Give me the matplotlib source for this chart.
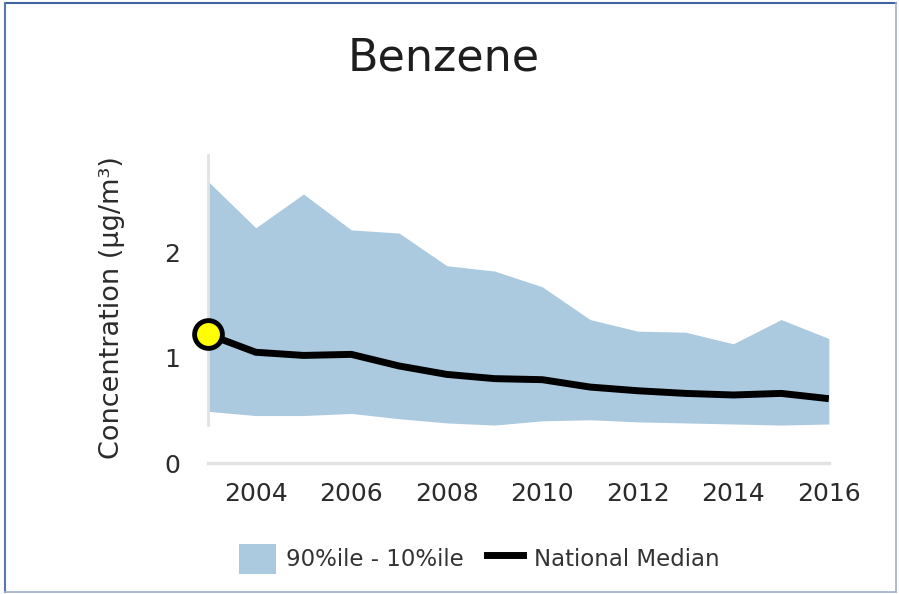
import numpy as np
import matplotlib
matplotlib.use('Agg')
import matplotlib.pyplot as plt
from matplotlib.lines import Line2D
from matplotlib.patches import Patch

plt.rcParams['font.family'] = ['DejaVu Sans']

# data
years = [2003, 2004, 2005, 2006, 2007, 2008, 2009, 2010, 2011, 2012, 2013, 2014, 2015, 2016]
p90 = [2.67, 2.23, 2.55, 2.21, 2.18, 1.87, 1.82, 1.67, 1.36, 1.25, 1.24, 1.13, 1.36, 1.18]
p10 = [0.49, 0.45, 0.45, 0.47, 0.42, 0.38, 0.36, 0.40, 0.41, 0.39, 0.38, 0.37, 0.36, 0.37]
median = [1.22, 1.05, 1.02, 1.03, 0.92, 0.84, 0.80, 0.79, 0.72, 0.685, 0.66, 0.645, 0.66, 0.61]
xticks = [2004, 2006, 2008, 2010, 2012, 2014, 2016]
yticks = [0, 1, 2]

band_col = '#abc9df'
txt_col = '#2b2b2b'

fig = plt.figure(figsize=(8.99, 5.94), dpi=100)
ax = fig.add_axes([0.2314, 0.2205, 0.6906, 0.5239])

ax.fill_between(years, p10, p90, color=band_col, linewidth=0)
ax.plot(years, median, color='black', lw=5, solid_capstyle='butt', zorder=3)
ax.plot(years[0], median[0], 'o', ms=20, mfc='#ffff00', mec='black', mew=3.5,
        clip_on=False, zorder=4)

ax.set_xlim(2003, 2016)
ax.set_ylim(0, 2.95)
ax.set_xticks(xticks)
ax.set_yticks(yticks)
ax.tick_params(length=0, labelsize=18, colors=txt_col)
ax.tick_params(axis='x', pad=14)
ax.tick_params(axis='y', pad=20)

for s in ['top', 'right']:
    ax.spines[s].set_visible(False)
ax.spines['left'].set_color('#e2e2e2')
ax.spines['left'].set_linewidth(2)
ax.spines['left'].set_bounds(0.36, 2.92)
ax.spines['bottom'].set_color('#e2e2e2')
ax.spines['bottom'].set_linewidth(2.5)

ax.set_ylabel('Concentration (\u03bcg/m\u00b3)', fontsize=19.5, color=txt_col, labelpad=28)
fig.text(0.493, 0.902, 'Benzene', fontsize=32, color='#1e1e1e', ha='center', va='center')

handles = [Patch(facecolor=band_col, edgecolor='none'),
           Line2D([0], [0], color='black', lw=5)]
fig.legend(handles, ['90%ile - 10%ile', 'National Median'], loc='center',
           bbox_to_anchor=(0.533, 0.059), ncol=2, frameon=False, fontsize=16.5,
           handlelength=1.6, handleheight=1.65, handletextpad=0.45,
           columnspacing=1.0, labelcolor='#333333')

# outer frame
fig.add_artist(Line2D([5/899, 896/899], [1-3/594, 1-3/594], color='#3f62a0', lw=1.5))
fig.add_artist(Line2D([5/899, 5/899], [1-3/594, 1-592/594], color='#5a79b0', lw=1.5))
fig.add_artist(Line2D([896/899, 896/899], [1-3/594, 1-592/594], color='#9fb0cc', lw=1.2))
fig.add_artist(Line2D([5/899, 896/899], [1-592/594, 1-592/594], color='#9fb0cc', lw=1.2))

fig.savefig('out.png', dpi=100)
